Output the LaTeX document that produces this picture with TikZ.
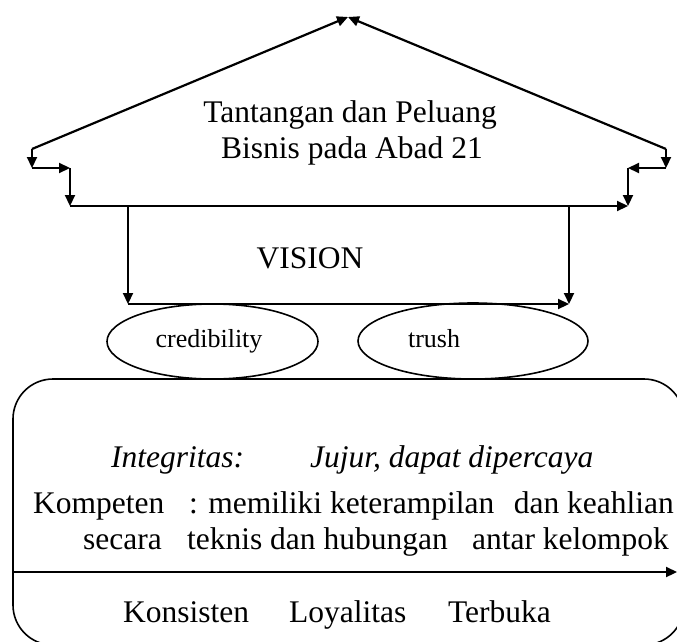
\documentclass[tikz,border=0pt]{standalone}
\usepackage{fontspec}
\setmainfont{Liberation Serif}
\usetikzlibrary{arrows.meta, shapes.geometric}

\begin{document}
\begin{tikzpicture}[x=1pt, y=-1pt, line width=2.2pt,
    >={Triangle[length=11pt,width=10pt]},
    txt/.style={inner sep=0pt, font=\fontsize{31.5}{36}\selectfont},
    lbl/.style={inner sep=0pt, font=\fontsize{26}{30}\selectfont},
    oval/.style={draw, ellipse, line width=1.6pt, inner sep=0pt}]
    \useasboundingbox (0,0) rectangle (677,642);
    \clip (0,0) rectangle (677,642);

    % roof
    \coordinate (apex) at (348,17);
    \coordinate (eaveL) at (32,149);
    \coordinate (eaveR) at (666,149);
    \coordinate (stepL) at (32,168);
    \coordinate (stepR) at (666,168);
    \coordinate (cornerL) at (70,168);
    \coordinate (cornerR) at (628,168);
    \coordinate (beamL) at (70,206);
    \coordinate (beamR) at (628,206);
    \draw[->] (eaveL) -- (apex);
    \draw[->] (eaveR) -- (apex);
    \draw[->] (eaveL) -- (stepL);
    \draw[->] (stepL) -- (cornerL);
    \draw[->] (cornerL) -- (beamL);
    \draw[->] (eaveR) -- (stepR);
    \draw[->] (stepR) -- (cornerR);
    \draw[->] (cornerR) -- (beamR);
    \draw[->] (beamL) -- (beamR);

    \node[txt, anchor=base] (title) at (350,122) {Tantangan dan Peluang};
    \node[txt, anchor=base] (subtitle) at (352,158) {Bisnis pada Abad 21};

    % posts
    \coordinate (postL) at (128,206);
    \coordinate (postR) at (569,206);
    \coordinate (footL) at (128,304);
    \coordinate (footR) at (569,304);
    \draw[->] (postL) -- (footL);
    \draw[->] (postR) -- (footR);
    \draw[->] (footL) -- (footR);
    \node[txt, anchor=base] (vision) at (310,268) {VISION};

    % values
    \node[oval, minimum width=211pt, minimum height=75pt] (credOval) at (212.5,341.5) {};
    \node[oval, minimum width=230pt, minimum height=76pt] (trushOval) at (473,341) {};
    \node[lbl, anchor=base] (cred) at (209,347) {credibility};
    \node[lbl, anchor=base west] (trush) at (407,347) {trush};

    % base
    \draw[line width=1.6pt, rounded corners=40pt] (13,379) rectangle (684,645);
    \coordinate (splitL) at (13,572);
    \coordinate (splitR) at (677,572);
    \draw[->] (splitL) -- (splitR);

    \node[txt, anchor=base west] (integ) at (110,467) {\itshape Integritas:};
    \node[txt, anchor=base west] (jujur) at (309,467) {\itshape Jujur, dapat dipercaya};
    \node[txt, anchor=base west] (kompeten) at (32,513) {Kompeten};
    \node[txt, anchor=base west] (memiliki) at (188,513) {: memiliki keterampilan};
    \node[txt, anchor=base east] (keahlian) at (675,513) {dan keahlian};
    \node[txt, anchor=base west] (secara) at (82,549) {secara};
    \node[txt, anchor=base west] (teknis) at (186,549) {teknis dan hubungan};
    \node[txt, anchor=base east] (kelompok) at (670,549) {antar kelompok};
    \node[txt, anchor=base west] (konsisten) at (122,622) {Konsisten};
    \node[txt, anchor=base west] (loyalitas) at (288,622) {Loyalitas};
    \node[txt, anchor=base west] (terbuka) at (447,622) {Terbuka};
\end{tikzpicture}
\end{document}
